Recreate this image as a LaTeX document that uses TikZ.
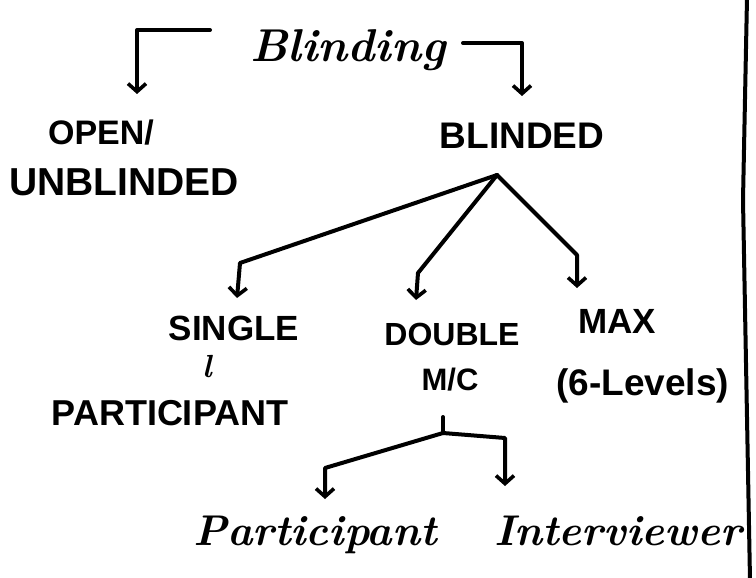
\documentclass[tikz,border=0pt]{standalone}
\usepackage{fontspec}
\newfontfamily\capsfont{Liberation Sans}
\usetikzlibrary{arrows.meta}
\begin{document}
\begin{tikzpicture}[x=1pt,y=-1pt,
  ink/.style={line width=4pt,line cap=round,line join=round,black},
  arr/.style={ink,-{Straight Barb[length=8pt,width=18pt,line width=3.6pt]}},
  capslabel/.style={font=\capsfont\bfseries\fontsize{36}{36}\selectfont,inner sep=0pt,anchor=base},
  cursive/.style={font=\bfseries\itshape\fontsize{46}{46}\selectfont,inner sep=0pt,anchor=base}]
\useasboundingbox[fill=white] (0,0) rectangle (756,578);
% texts
\node[cursive] (blinding) at (348,62) {Blinding};
\node[capslabel,font=\capsfont\bfseries\fontsize{34}{34}\selectfont] (open) at (101,145) {OPEN/};
\node[capslabel,font=\capsfont\bfseries\fontsize{39}{39}\selectfont] (unblinded) at (124,195) {UNBLINDED};
\node[capslabel,font=\capsfont\bfseries\fontsize{37}{37}\selectfont] (blinded) at (522,148) {BLINDED};
\node[capslabel,font=\capsfont\bfseries\fontsize{35}{35}\selectfont] (single) at (234,340) {SINGLE};
\node[cursive,font=\bfseries\itshape\fontsize{32}{32}\selectfont] (ell) at (207,377) {l};
\node[capslabel,font=\capsfont\bfseries\fontsize{36}{36}\selectfont] (partcaps) at (170,425) {PARTICIPANT};
\node[capslabel,font=\capsfont\bfseries\fontsize{32}{32}\selectfont] (double) at (452,345) {DOUBLE};
\node[capslabel,font=\capsfont\bfseries\fontsize{31}{31}\selectfont] (mc) at (450,390) {M/C};
\node[capslabel,font=\capsfont\bfseries\fontsize{35}{35}\selectfont] (max) at (617,333) {MAX};
\node[capslabel,anchor=base west,font=\capsfont\bfseries\fontsize{37}{37}\selectfont] (levels) at (556,395) {(6-Levels)};
\node[cursive,font=\bfseries\itshape\fontsize{43}{43}\selectfont] (participant) at (315,545) {Participant};
\node[cursive,font=\bfseries\itshape\fontsize{43}{43}\selectfont] (interviewer) at (618,545) {Interviewer};
% connector points
\coordinate (bl1) at (210,30);
\coordinate (bl2) at (137,94);
\coordinate (br1) at (463,43);
\coordinate (br2) at (522,96);
\coordinate (b0) at (497,175);
\coordinate (b1) at (240,263);
\coordinate (b1t) at (237,298);
\coordinate (b2) at (418,273);
\coordinate (b2t) at (416,300);
\coordinate (b3) at (577,255);
\coordinate (b3t) at (577,288);
\coordinate (m0) at (443,417);
\coordinate (m1) at (443,433);
\coordinate (m2) at (325,468);
\coordinate (m2t) at (325,499);
\coordinate (m3) at (505,438);
\coordinate (m3t) at (505,486);
% connectors
\draw[arr] (bl1) -| (bl2);
\draw[arr] (br1) -| (br2);
\draw[arr] (b0) -- (b1) -- (b1t);
\draw[arr] (b0) -- (b2) -- (b2t);
\draw[arr] (b0) -- (b3) -- (b3t);
\draw[ink] (m0) -- (m1);
\draw[arr] (m1) -- (m2) -- (m2t);
\draw[arr] (m1) -- (m3) -- (m3t);
% margin line
\draw[ink] (747,-2) -- (743,200) -- (750,580);
\end{tikzpicture}
\end{document}
